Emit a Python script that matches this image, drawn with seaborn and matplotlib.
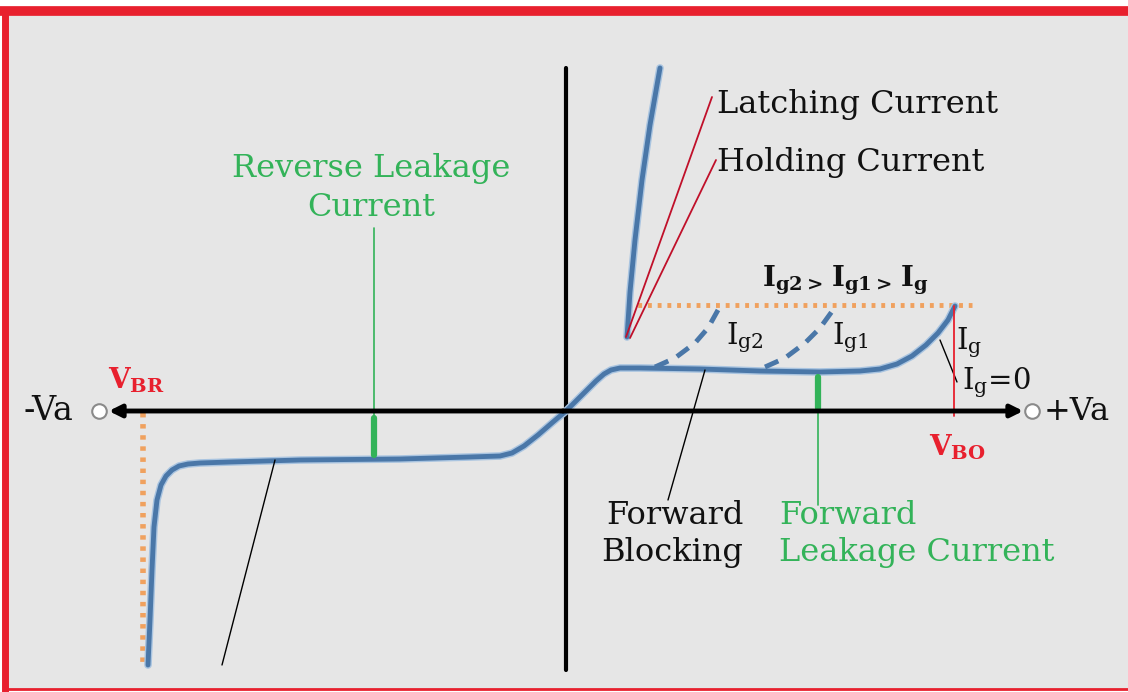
import matplotlib
matplotlib.use("Agg")
import matplotlib.pyplot as plt
import matplotlib.patheffects as pe
import seaborn as sns
from matplotlib.patches import Rectangle

# --- datos (coordenadas en pixeles, y hacia abajo) ---
# curva principal: zona inversa + bloqueo directo hasta V_BO
curve_x = [148, 150, 152, 154, 157, 161, 166, 172, 179, 188, 200, 230, 300, 400, 470, 500,
           512, 524, 538, 553, 566, 582, 596, 604, 611, 620, 640, 700, 760, 820, 860,
           880, 897, 912, 926, 938, 948, 955]
curve_y = [665, 620, 570, 527, 500, 485, 476, 470, 466, 464, 463, 462, 460, 459, 457, 456,
           453, 446, 435, 422, 411, 395, 381, 374, 370, 368, 368, 369, 371, 372, 371,
           369, 364, 356, 345, 333, 320, 306]
# estado de conduccion
on_x = [627, 630, 635, 642, 650, 660]
on_y = [337, 292, 240, 180, 125, 68]
# curvas con corriente de puerta (discontinuas)
ig2_x = [655, 675, 695, 708, 718]
ig2_y = [367, 358, 343, 328, 310]
ig1_x = [765, 785, 805, 820, 833]
ig1_y = [367, 358, 343, 328, 310]

BLUE = "#4a77a8"
GREEN = "#33b359"
RED = "#e8202e"
ORANGE = "#f0a15e"
FS = 23

sns.set_style("white")
plt.rcParams["font.family"] = ["DejaVu Serif"]
plt.rcParams["mathtext.fontset"] = "dejavuserif"
plt.rcParams["text.color"] = "#111111"

fig = plt.figure(figsize=(11.28, 6.92), dpi=100)
ax = fig.add_axes([0, 0, 1, 1])
ax.set_xlim(0, 1128)
ax.set_ylim(692, 0)
ax.axis("off")

# marco
ax.add_patch(Rectangle((5, 10), 1123, 679, facecolor="#e6e6e6", edgecolor="none", zorder=0))
ax.plot([0, 1128], [10.5, 10.5], color=RED, lw=7, solid_capstyle="butt")
ax.plot([5, 5], [8, 692], color=RED, lw=5, solid_capstyle="butt")
ax.plot([5, 1128], [689, 689], color=RED, lw=2)

# ejes
ax.annotate("", xy=(106, 411), xytext=(566, 411),
            arrowprops=dict(arrowstyle="-|>", lw=3.5, color="black", mutation_scale=18))
ax.annotate("", xy=(1026, 411), xytext=(560, 411),
            arrowprops=dict(arrowstyle="-|>", lw=3.5, color="black", mutation_scale=18))
ax.plot([566, 566], [68, 670], color="black", lw=3)
ax.scatter([99, 1032], [411, 411], s=110, facecolor="white", edgecolor="#8a8a8a", lw=1.5, zorder=5)
ax.text(73, 411, "-Va", fontsize=24, ha="right", va="center")
ax.text(1044, 411, "+Va", fontsize=FS, ha="left", va="center")

# lineas de referencia naranjas
ax.plot([143, 143], [413, 665], color=ORANGE, lw=4, ls=(0, (0.8, 1.2)))
ax.plot([628, 972], [305, 305], color=ORANGE, lw=3.5, ls=(0, (0.8, 1.2)))

# curvas
halo = [pe.Stroke(linewidth=5.5, foreground="#a9c4e0"), pe.Normal()]
for xs, ys, style in [(curve_x, curve_y, "-"), (on_x, on_y, "-"),
                      (ig2_x, ig2_y, (0, (3, 2))), (ig1_x, ig1_y, (0, (3, 2)))]:
    sns.lineplot(x=xs, y=ys, sort=False, estimator=None, color=BLUE, lw=3.5, ls=style,
                 path_effects=halo if style == "-" else None, ax=ax)

# corrientes de fuga (verde)
ax.plot([374, 374], [228, 456], color=GREEN, lw=1.2)
ax.plot([374, 374], [418, 455], color=GREEN, lw=4.5)
ax.plot([818, 818], [376, 505], color=GREEN, lw=1.2)
ax.plot([818, 818], [377, 408], color=GREEN, lw=4.5)
ax.text(371, 168, "Reverse Leakage", fontsize=FS, color=GREEN, ha="center", va="center")
ax.text(371, 207, "Current", fontsize=FS, color=GREEN, ha="center", va="center")
ax.text(779, 516, "Forward", fontsize=FS, color=GREEN, ha="left", va="center")
ax.text(779, 553, "Leakage Current", fontsize=FS, color=GREEN, ha="left", va="center")

# lineas guia negras
ax.plot([222, 275], [665, 460], color="black", lw=1)
ax.plot([668, 705], [500, 370], color="black", lw=1)
ax.plot([940, 957], [340, 382], color="black", lw=1)
ax.text(675, 516, "Forward", fontsize=FS, ha="center", va="center")
ax.text(672, 553, "Blocking", fontsize=FS, ha="center", va="center")

# enganche y mantenimiento
ax.plot([626, 712], [337, 97], color="#c0102a", lw=1.3)
ax.plot([630, 716], [338, 160], color="#c0102a", lw=1.3)
ax.text(717, 104, "Latching Current", fontsize=FS, ha="left", va="center")
ax.text(717, 162, "Holding Current", fontsize=FS, ha="left", va="center")

# corrientes de puerta
ax.text(845, 280, r"$\mathbf{I}_{\mathbf{g2>}}\,\mathbf{I}_{\mathbf{g1>}}\,\mathbf{I}_{\mathbf{g}}$",
        fontsize=20, ha="center", va="center")
ax.text(726, 338, r"$\mathrm{I}_{\mathrm{g2}}$", fontsize=21, ha="left", va="center")
ax.text(832, 338, r"$\mathrm{I}_{\mathrm{g1}}$", fontsize=21, ha="left", va="center")
ax.text(956, 343, r"$\mathrm{I}_{\mathrm{g}}$", fontsize=21, ha="left", va="center")
ax.text(962, 383, r"$\mathrm{I}_{\mathrm{g}}$=0", fontsize=21, ha="left", va="center")

# tensiones de ruptura
ax.plot([954, 954], [306, 416], color=RED, lw=1.3)
ax.text(957, 447, r"$\mathbf{V}_{\mathbf{BO}}$", fontsize=20, color=RED, ha="center", va="center")
ax.text(136, 380, r"$\mathbf{V}_{\mathbf{BR}}$", fontsize=20, color=RED, ha="center", va="center")

fig.savefig("out.png", dpi=100, facecolor="white")
